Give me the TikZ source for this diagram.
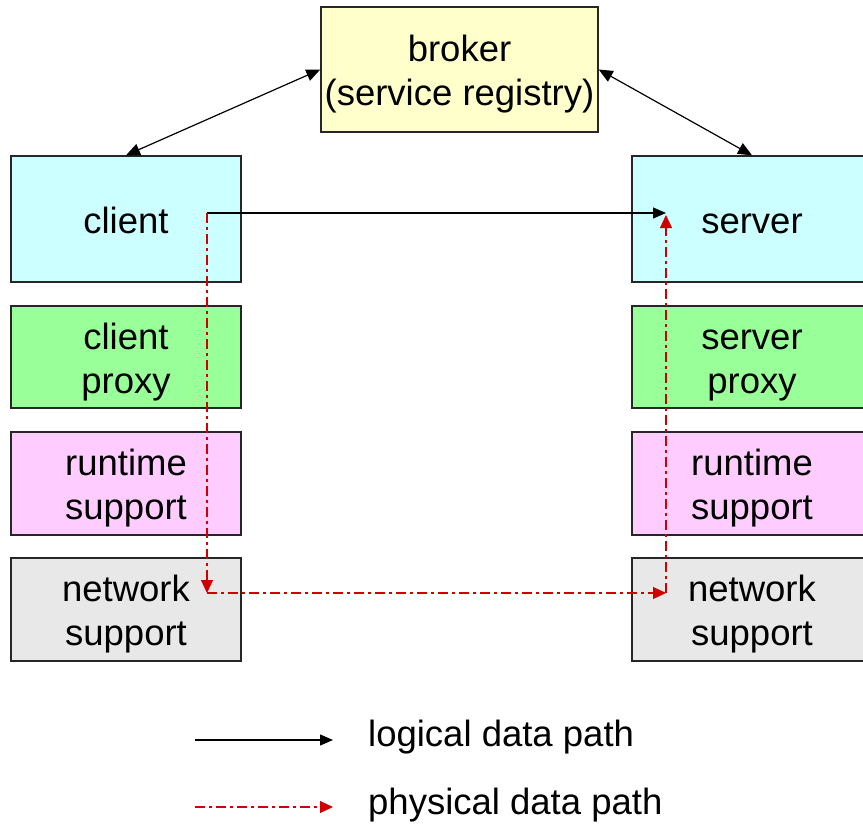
\documentclass[tikz,border=0pt]{standalone}
\usepackage{fontspec}
\setmainfont{Liberation Sans}
\usetikzlibrary{arrows.meta}
\definecolor{cyanbox}{HTML}{CCFFFF}
\definecolor{greenbox}{HTML}{99FF99}
\definecolor{pinkbox}{HTML}{FFCCFF}
\definecolor{greybox}{HTML}{E8E8E8}
\definecolor{yellowbox}{HTML}{FFFFCC}
\definecolor{physred}{HTML}{D00000}
\newcommand\stl{\rule[-2pt]{0pt}{32pt}}
\newcommand\stt{\rule{0pt}{36pt}}
\newcommand\stb{\rule{0pt}{30pt}}
\begin{document}
\begin{tikzpicture}[x=1pt,y=-1pt,
  box/.style={draw=black!85,line width=1.4pt,minimum width=230pt,align=center,
    inner sep=0pt,font=\fontsize{36.5}{44}\selectfont},
  rbox/.style={box,minimum width=240pt},
  logical/.style={black,line width=1.2pt,-{Triangle[length=13pt,width=11pt]}},
  physical/.style={physred,line width=1.2pt,dash pattern=on 10pt off 4pt on 3pt off 4pt,-{Triangle[length=13pt,width=12pt]}},
  both/.style={black,line width=1.2pt,{Triangle[length=14pt,width=12pt]}-{Triangle[length=14pt,width=12pt]}},
  legtext/.style={anchor=west,font=\fontsize{36.5}{44}\selectfont,inner sep=0pt}]
\useasboundingbox (0,0) rectangle (863,827);
\begin{scope}
\clip (0,0) rectangle (863,827);
\node[box,fill=yellowbox,minimum width=277pt,minimum height=125pt] (broker) at (459.5,69.5) {\stt broker\\\stb (service registry)};
\node[box,fill=cyanbox,minimum height=126pt] (client) at (126,219) {\stl client};
\node[box,fill=greenbox,minimum height=102pt] (cproxy) at (126,357) {\stt client\\\stb proxy};
\node[box,fill=pinkbox,minimum height=103pt] (crt) at (126,483.5) {\stt runtime\\\stb support};
\node[box,fill=greybox,minimum height=103pt] (cnet) at (126,609.5) {\stt network\\\stb support};
\node[rbox,fill=cyanbox,minimum height=126pt] (server) at (752,219) {\stl server};
\node[rbox,fill=greenbox,minimum height=102pt] (sproxy) at (752,357) {\stt server\\\stb proxy};
\node[rbox,fill=pinkbox,minimum height=103pt] (srt) at (752,483.5) {\stt runtime\\\stb support};
\node[rbox,fill=greybox,minimum height=103pt] (snet) at (752,609.5) {\stt network\\\stb support};
\end{scope}
\draw[both] (client.north) -- (broker.west);
\draw[both] (broker.east) -- (server.north);
\coordinate (p1) at (207,213);
\coordinate (p2) at (207,593);
\coordinate (p3) at (666,593);
\coordinate (p4) at (666,215);
\coordinate (q) at (666,213);
\draw[logical] (p1) -- (q);
\draw[physical] (p1) -- (p2);
\draw[physical] (p2) -- (p3);
\draw[physical] (p3) -- (p4);
\coordinate (l1) at (195,740);
\coordinate (l2) at (333,740);
\coordinate (m1) at (195,807);
\coordinate (m2) at (333,807);
\draw[logical] (l1) -- (l2);
\draw[physical] (m1) -- (m2);
\node[legtext] (lt) at (368,737) {logical data path};
\node[legtext] (pt) at (368,805) {physical data path};
\end{tikzpicture}
\end{document}
